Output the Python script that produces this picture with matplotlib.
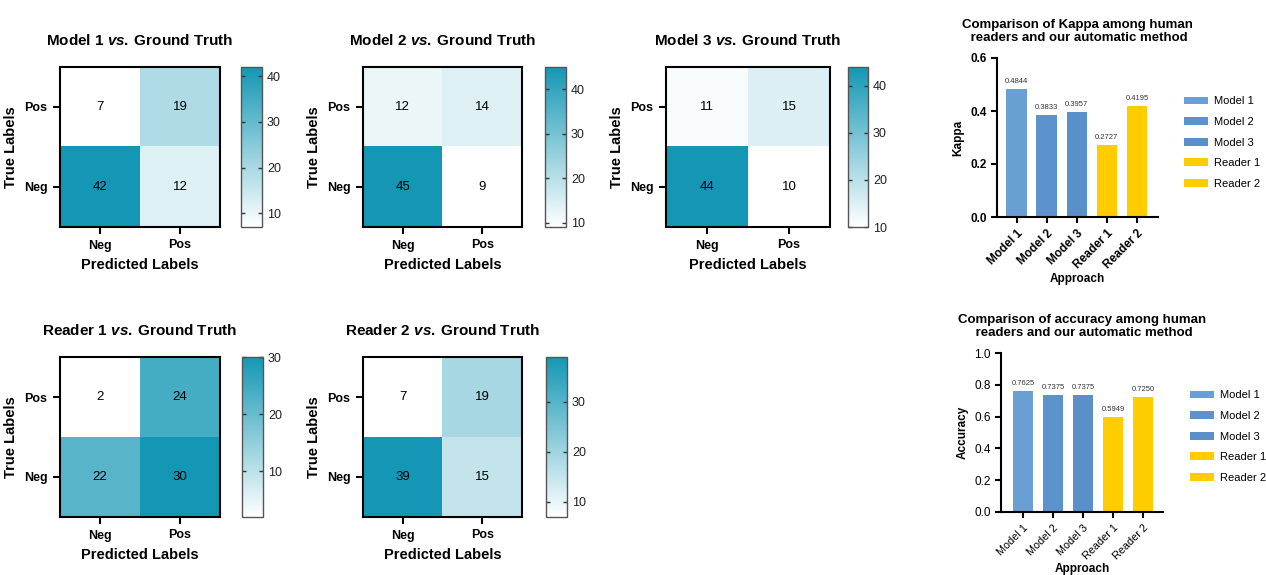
import matplotlib
matplotlib.use("Agg")
import matplotlib.pyplot as plt
import numpy as np
from matplotlib.colors import LinearSegmentedColormap
from matplotlib.ticker import MultipleLocator

plt.rcParams['font.family'] = ['Liberation Sans', 'DejaVu Sans']
plt.rcParams['mathtext.fontset'] = 'custom'
plt.rcParams['mathtext.it'] = 'Liberation Sans:italic:bold'
plt.rcParams['mathtext.rm'] = 'Liberation Sans:bold'

# confusion matrices, rows = [Pos, Neg], cols = [Neg, Pos]
cm_names = ["Model 1", "Model 2", "Model 3", "Reader 1", "Reader 2"]
cm_model1 = [[7, 19], [42, 12]]
cm_model2 = [[12, 14], [45, 9]]
cm_model3 = [[11, 15], [44, 10]]
cm_reader1 = [[2, 24], [22, 30]]
cm_reader2 = [[7, 19], [39, 15]]
row_labels = ["Pos", "Neg"]
col_labels = ["Neg", "Pos"]

approaches = ["Model 1", "Model 2", "Model 3", "Reader 1", "Reader 2"]
kappa = [0.4844, 0.3833, 0.3957, 0.2727, 0.4195]
accuracy = [0.7625, 0.7375, 0.7375, 0.5949, 0.7250]
bar_colors = ["#6a9fd3", "#5d93cc", "#5990c9", "#ffcc00", "#ffcc00"]

W, H = 1266, 575
fig = plt.figure(figsize=(W / 100, H / 100), dpi=100)


def ax_px(x0, y0, x1, y1):
    return fig.add_axes([x0 / W, 1 - y1 / H, (x1 - x0) / W, (y1 - y0) / H])


cmap = LinearSegmentedColormap.from_list("teal", ["#ffffff", "#1497b4"])

# pixel boxes: heatmap, colorbar
boxes = [
    ((60, 67, 220, 227), (241, 67, 262, 227)),
    ((363, 67, 522, 227), (545, 67, 566, 227)),
    ((666, 67, 830, 227), (848, 67, 868, 227)),
    ((60, 357, 220, 517), (242, 357, 263, 517)),
    ((363, 357, 522, 517), (546, 357, 567, 517)),
]
mats = [cm_model1, cm_model2, cm_model3, cm_reader1, cm_reader2]

for name, m, (hb, cb) in zip(cm_names, mats, boxes):
    m = np.array(m)
    ax = ax_px(*hb)
    im = ax.imshow(m, cmap=cmap, vmin=m.min(), vmax=m.max(), aspect='auto')
    for i in range(2):
        for j in range(2):
            ax.text(j, i, str(m[i, j]), ha='center', va='center', fontsize=9.5)
    ax.set_xticks([0, 1])
    ax.set_xticklabels(col_labels, fontweight='bold', fontsize=9)
    ax.set_yticks([0, 1])
    ax.set_yticklabels(row_labels, fontweight='bold', fontsize=9)
    ax.tick_params(length=5, width=1.5, pad=4)
    for s in ax.spines.values():
        s.set_linewidth(1.5)
    ax.set_xlabel("Predicted Labels", fontweight='bold', fontsize=10.5, labelpad=5)
    ax.set_ylabel("True Labels", fontweight='bold', fontsize=10.5, labelpad=4)
    ax.set_title(name + r" $\mathit{vs.}\:$Ground Truth", fontweight='bold',
                 fontsize=11, pad=16)
    cax = ax_px(*cb)
    cbar = fig.colorbar(im, cax=cax)
    cbar.outline.set_linewidth(1)
    cbar.outline.set_edgecolor('#555555')
    cax.yaxis.set_major_locator(MultipleLocator(10))
    cax.tick_params(direction='in', left=True, right=True, length=3,
                    width=1, labelsize=9, colors='#333333', labelcolor='#222222')


def bar_chart(box, vals, ylab, title, ylim, yticks, xlim, bold_ticks, leg_xy, tick_fs):
    ax = ax_px(*box)
    x = np.arange(len(approaches))
    bars = ax.bar(x, vals, width=0.68, color=bar_colors, label=approaches)
    for xi, v in zip(x, vals):
        ax.text(xi, v + (ylim[1] - ylim[0]) * 0.025, f"{v:.4f}", ha='center',
                va='bottom', fontsize=5.5, color='#333333')
    ax.set_ylim(*ylim)
    ax.set_xlim(*xlim)
    ax.set_yticks(yticks)
    ax.set_yticklabels([f"{t:.1f}" for t in yticks],
                       fontweight='bold' if bold_ticks else 'normal', fontsize=8.5)
    ax.set_xticks(x)
    ax.set_xticklabels(approaches, rotation=45, ha='right', rotation_mode='anchor',
                       fontweight='bold' if bold_ticks else 'normal', fontsize=tick_fs)
    ax.spines['top'].set_visible(False)
    ax.spines['right'].set_visible(False)
    for s in ['left', 'bottom']:
        ax.spines[s].set_linewidth(1.5)
    ax.tick_params(length=4, width=1.5)
    ax.set_ylabel(ylab, fontweight='bold', fontsize=8.5)
    ax.set_xlabel("Approach", fontweight='bold', fontsize=8.5, labelpad=1)
    ax.set_title(title, fontweight='bold', fontsize=9.5, pad=12)
    fig.legend(bars, approaches, loc='upper left',
               bbox_to_anchor=(leg_xy[0] / W, 1 - leg_xy[1] / H),
               frameon=False, fontsize=8, handlelength=2.1, handleheight=0.7,
               labelspacing=0.95, handletextpad=0.6, borderaxespad=0)
    return ax


bar_chart((997, 58, 1158, 217), kappa, "Kappa",
          "Comparison of Kappa among human\n readers and our automatic method",
          (0, 0.6), [0.0, 0.2, 0.4, 0.6], (-0.65, 4.7), True, (1180, 92), 8.5)
bar_chart((1001, 353, 1163, 512), accuracy, "Accuracy",
          "Comparison of accuracy among human\n readers and our automatic method",
          (0, 1.0), [0.0, 0.2, 0.4, 0.6, 0.8, 1.0], (-0.73, 4.67), False, (1186, 386), 7.8)

fig.savefig("out.png", dpi=100)
